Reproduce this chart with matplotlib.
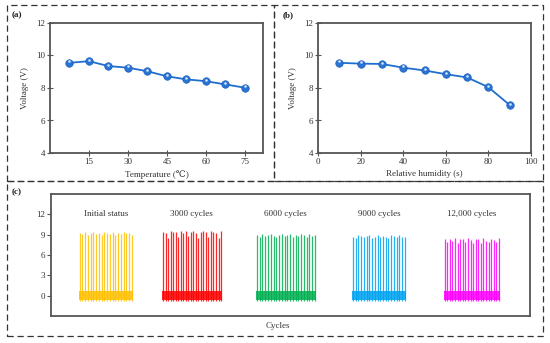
import numpy as np
import matplotlib
matplotlib.use('Agg')
import matplotlib.pyplot as plt
from matplotlib.patches import Rectangle
import matplotlib.transforms as mtrans

plt.rcParams['font.family'] = ['Liberation Serif', 'DejaVu Serif', 'DejaVu Sans']
plt.rcParams['font.size'] = 6.5

# (a) voltage vs temperature
temp = [7.5, 15, 22.5, 30, 37.5, 45, 52.5, 60, 67.5, 75]
volt_temp = [9.55, 9.65, 9.35, 9.25, 9.03, 8.72, 8.53, 8.42, 8.22, 8.02]

# (b) voltage vs relative humidity
humidity = [10, 20, 30, 40, 50, 60, 70, 80, 90]
volt_hum = [9.55, 9.5, 9.48, 9.25, 9.08, 8.85, 8.65, 8.05, 6.95]

# (c) peak voltages of each pulse in each durability block
groups = ['Initial status', '3000 cycles', '6000 cycles', '9000 cycles', '12,000 cycles']
peaks = [
    [9.3, 9.1, 9.4, 9.0, 9.2, 9.4, 9.1, 9.3, 9.0, 9.4, 9.2, 9.1, 9.4, 9.0, 9.3, 9.1, 9.4, 9.2, 9.3, 9.0],
    [9.4, 9.3, 8.5, 9.5, 9.4, 9.4, 8.6, 9.5, 9.3, 9.5, 8.8, 9.4, 9.5, 9.3, 8.5, 9.4, 9.5, 9.4, 8.6, 9.5, 9.4, 9.3, 8.5, 9.5],
    [8.9, 8.7, 9.1, 8.8, 8.9, 9.1, 8.8, 8.7, 9.0, 9.1, 8.8, 8.9, 9.1, 8.7, 9.0, 8.8, 9.1, 8.9, 8.7, 9.1, 8.8, 9.0],
    [8.7, 8.5, 8.9, 8.8, 8.6, 8.8, 8.9, 8.5, 8.7, 8.9, 8.6, 8.8, 8.7, 8.5, 8.9, 8.8, 8.6, 8.9, 8.7, 8.6],
    [8.3, 7.9, 8.4, 8.0, 8.5, 7.7, 8.3, 8.4, 7.9, 8.5, 8.2, 7.8, 8.4, 8.3, 7.8, 8.5, 8.1, 7.9, 8.4, 8.2, 7.9, 8.5],
]
colors = ['#FFC000', '#FF0000', '#00B050', '#00A2F0', '#FF00FF']
spans = [(5.8, 17.1), (23.2, 35.7), (42.8, 55.3), (62.8, 74.1), (82.0, 93.7)]
label_x = [11.5, 29.4, 49.0, 68.5, 87.9]

W, H = 550, 343
fig = plt.figure(figsize=(W / 100, H / 100), dpi=100)

def fx(px):
    return px / W

def fy(py):
    return 1 - py / H

# dashed panel boxes
for (x0, y0, x1, y1) in [(7, 5, 274, 181), (274, 5, 543, 181), (7, 181, 543, 336)]:
    fig.patches.append(Rectangle((fx(x0), fy(y1)), fx(x1) - fx(x0), fy(y0) - fy(y1),
                                 transform=fig.transFigure, fill=False,
                                 ec='#333333', lw=0.9, ls=(0, (5, 3))))

spine_c = '#555555'
txt_c = '#333333'

def style(ax):
    for s in ax.spines.values():
        s.set_color(spine_c)
        s.set_linewidth(1.3)
    ax.tick_params(direction='inout', length=4, width=0.8, colors=spine_c,
                   labelcolor=txt_c, labelsize=6.5, pad=1.5)

line_c = '#1E6FD0'

def line_panel(ax, x, y):
    ax.plot(x, y, color=line_c, lw=1.3, marker='o', ms=5.4, mfc='#2A74D6', mec='#1A5FB8', mew=0.5)
    off = mtrans.ScaledTranslation(0, 1.0 / 72, fig.dpi_scale_trans)
    ax.plot(x, y, ls='none', marker='o', ms=1.8, mfc='white', mec='none', alpha=0.85,
            transform=ax.transData + off)

axa = fig.add_axes([fx(50), fy(153), fx(263) - fx(50), fy(23) - fy(153)])
line_panel(axa, temp, volt_temp)
axa.set_xlim(0, 82)
axa.set_ylim(4, 12)
axa.set_xticks([15, 30, 45, 60, 75])
axa.set_yticks([4, 6, 8, 10, 12])
axa.set_xlabel('Temperature (\u2103)', color=txt_c, labelpad=3)
axa.set_ylabel('Voltage (V)', color=txt_c, labelpad=5)
style(axa)

axb = fig.add_axes([fx(318), fy(153), fx(531) - fx(318), fy(23) - fy(153)])
line_panel(axb, humidity, volt_hum)
axb.set_xlim(0, 100)
axb.set_ylim(4, 12)
axb.set_xticks([0, 20, 40, 60, 80, 100])
axb.set_yticks([4, 6, 8, 10, 12])
axb.set_xlabel('Relative humidity (s)', color=txt_c, labelpad=3)
axb.set_ylabel('Voltage (V)', color=txt_c, labelpad=5)
style(axb)

axc = fig.add_axes([fx(51), fy(316), fx(530) - fx(51), fy(194) - fy(316)])
for pk, col, (x0, x1), lx, name in zip(peaks, colors, spans, label_x, groups):
    n = len(pk)
    xs = np.linspace(x0 + 0.2, x1 - 0.2, n)
    axc.fill_between([x0, x1], -0.65, 0.75, color=col, alpha=0.85, lw=0)
    axc.vlines(xs, -0.75, pk, color=col, lw=0.9, alpha=0.85)
    axc.text(lx, 12, name, ha='center', va='center', color=txt_c, fontsize=6.5)
axc.set_xlim(0, 100)
axc.set_ylim(-3, 15)
axc.set_xticks([])
axc.set_yticks([0, 3, 6, 9, 12])
style(axc)
axc.tick_params(axis='y', direction='out', length=3)

fig.text(fx(278), fy(326), 'Cycles', ha='center', va='center', color=txt_c, fontsize=6.5)

for lab, (px, py) in zip(['(a)', '(b)', '(c)'], [(12, 15), (283, 15), (12, 192)]):
    fig.text(fx(px), fy(py), lab, ha='left', va='center', fontweight='bold', fontsize=6.5, color='#222222')

fig.savefig('out.png', dpi=100)
